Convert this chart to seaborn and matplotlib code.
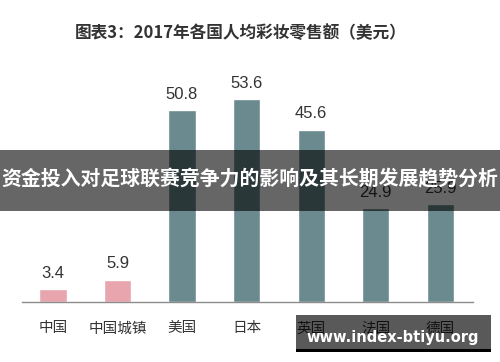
import matplotlib
matplotlib.use("Agg")
import matplotlib.pyplot as plt
import seaborn as sns
from matplotlib.patches import Rectangle

categories = ["中国", "中国城镇", "美国", "日本", "英国", "法国", "德国"]
values = [3.4, 5.9, 50.8, 53.6, 45.6, 24.9, 25.9]
bar_colors = ["#e8a5ad", "#e8a5ad", "#6a8a8f", "#6a8a8f", "#6a8a8f", "#6a8a8f", "#6a8a8f"]
title = "图表3：2017年各国人均彩妆零售额（美元）"
banner = "资金投入对足球联赛竞争力的影响及其长期发展趋势分析"
watermark = "www.index-btiyu.org"

sns.set_style("white")
plt.rcParams["font.family"] = ["Noto Sans CJK SC", "DejaVu Sans"]

fig = plt.figure(figsize=(5, 3.62), dpi=100)
ax = fig.add_axes([0.044, 0.1657, 0.902, 0.6685])

sns.barplot(x=categories, y=values, hue=categories, palette=bar_colors,
            legend=False, width=0.42, saturation=1, ax=ax)
ax.set_xlim(-0.48, 6.51)
ax.set_ylim(0, 64)
for c in ax.containers:
    ax.bar_label(c, fmt="%.1f", padding=6, fontsize=12, color="#333333",
                 family="Liberation Sans")

for s in ["top", "right", "left"]:
    ax.spines[s].set_visible(False)
ax.spines["bottom"].set_color("#8c8c8c")
ax.spines["bottom"].set_linewidth(1.0)
ax.set_yticks([])
ax.set_xlabel("")
ax.set_ylabel("")
ax.tick_params(axis="x", length=0, pad=14, labelsize=10.5, labelcolor="#333333")

fig.text(0.482, 0.909, title, ha="center", va="center", fontsize=12,
         fontweight="bold", color="#333333")

# overlay banner
fig.patches.append(Rectangle((0, 0.417), 1, 0.169, transform=fig.transFigure,
                             facecolor="black", alpha=0.6, edgecolor="none"))
fig.text(0.5, 0.506, banner, ha="center", va="center", fontsize=14.3,
         fontweight="bold", color="white")

# watermark box
fig.patches.append(Rectangle((0.592, 0.036), 0.39, 0.094, transform=fig.transFigure,
                             facecolor="black", alpha=0.65, edgecolor="none"))
fig.patches.append(Rectangle((0.592, 0.028), 0.39, 0.009, transform=fig.transFigure,
                             facecolor="black", edgecolor="none"))
fig.text(0.785, 0.069, watermark, ha="center", va="center", fontsize=10.5,
         fontweight="bold", color="white", family="DejaVu Sans")

fig.savefig("out.png", dpi=100, facecolor="white")
